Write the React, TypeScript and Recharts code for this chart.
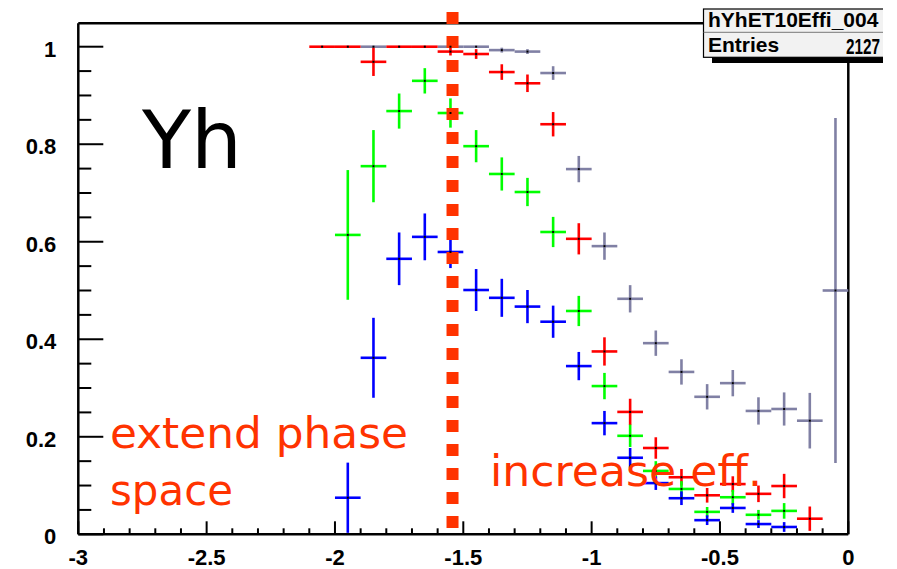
import React from 'react';
import { ScatterChart, Scatter, XAxis, YAxis, ErrorBar, ReferenceLine } from 'recharts';

// Efficiency per eta bin (bin width 0.1), four selections.
const HALF_BIN = 0.05;

const GRAY_X = [-1.85, -1.55, -1.45, -1.35, -1.25, -1.15, -1.05, -0.95, -0.85, -0.75, -0.65, -0.55, -0.45, -0.35, -0.25, -0.15, -0.05];
const GRAY_Y = [1, 1, 1, 0.993, 0.99, 0.946, 0.749, 0.591, 0.483, 0.392, 0.333, 0.282, 0.31, 0.253, 0.257, 0.233, 0.5];
const GRAY_ERR = [0, 0, 0, 0.005, 0.005, 0.014, 0.027, 0.028, 0.028, 0.026, 0.026, 0.026, 0.027, 0.028, 0.034, 0.057, 0.354];

const RED_X = [-2.05, -1.95, -1.85, -1.75, -1.65, -1.55, -1.45, -1.35, -1.25, -1.15, -1.05, -0.95, -0.85, -0.75, -0.65, -0.55, -0.45, -0.35, -0.25, -0.15];
const RED_Y = [1, 1, 0.969, 1, 1, 0.99, 0.985, 0.948, 0.925, 0.841, 0.606, 0.375, 0.251, 0.177, 0.117, 0.08, 0.103, 0.083, 0.099, 0.032];
const RED_ERR = [0, 0, 0.029, 0, 0, 0.008, 0.01, 0.016, 0.018, 0.025, 0.032, 0.029, 0.027, 0.022, 0.017, 0.015, 0.016, 0.017, 0.025, 0.025];

const GREEN_X = [-1.95, -1.85, -1.75, -1.65, -1.55, -1.45, -1.35, -1.25, -1.15, -1.05, -0.95, -0.85, -0.75, -0.65, -0.55, -0.45, -0.35, -0.25];
const GREEN_Y = [0.614, 0.755, 0.868, 0.93, 0.864, 0.796, 0.739, 0.702, 0.62, 0.458, 0.304, 0.202, 0.13, 0.093, 0.046, 0.076, 0.04, 0.048];
const GREEN_ERR = [0.133, 0.074, 0.036, 0.026, 0.03, 0.033, 0.034, 0.029, 0.031, 0.031, 0.027, 0.023, 0.02, 0.016, 0.01, 0.015, 0.01, 0.016];

const BLUE_X = [-1.95, -1.85, -1.75, -1.65, -1.55, -1.45, -1.35, -1.25, -1.15, -1.05, -0.95, -0.85, -0.75, -0.65, -0.55, -0.45, -0.35, -0.25];
const BLUE_Y = [0.075, 0.362, 0.565, 0.61, 0.579, 0.501, 0.485, 0.467, 0.436, 0.345, 0.228, 0.157, 0.105, 0.074, 0.029, 0.054, 0.021, 0.015];
const BLUE_ERR = [0.072, 0.082, 0.054, 0.048, 0.033, 0.043, 0.039, 0.034, 0.033, 0.029, 0.025, 0.02, 0.014, 0.014, 0.01, 0.01, 0.008, 0.01];

// Axis ticks
const X_MAJOR = [-3, -2.5, -2, -1.5, -1, -0.5, 0];
const X_LABELS = ['-3', '-2.5', '-2', '-1.5', '-1', '-0.5', '0'];
const X_MINOR_DIV = 5;
const Y_MAJOR = [0, 0.2, 0.4, 0.6, 0.8, 1];
const Y_LABELS = ['0', '0.2', '0.4', '0.6', '0.8', '1'];
const Y_MINOR_DIV = 4;

const X_DOMAIN: [number, number] = [-3, 0];
const Y_DOMAIN: [number, number] = [0, 1.048];
const CUT_ETA = -1.542;

const W = 897;
const H = 569;

function withMinors(major: number[], div: number, max: number): number[] {
  const out: number[] = [];
  for (let i = 0; i < major.length; i++) {
    out.push(major[i]);
    if (i < major.length - 1) {
      const step = (major[i + 1] - major[i]) / div;
      for (let k = 1; k < div; k++) out.push(+(major[i] + k * step).toFixed(4));
    }
  }
  const last = major[major.length - 1];
  const step = (major[1] - major[0]) / div;
  for (let v = last + step; v <= max + 1e-9; v += step) out.push(+v.toFixed(4));
  return out;
}

const X_TICKS = withMinors(X_MAJOR, X_MINOR_DIV, X_DOMAIN[1]);
const Y_TICKS = withMinors(Y_MAJOR, Y_MINOR_DIV, Y_DOMAIN[1]);

function toPoints(xs: number[], ys: number[], errs: number[]) {
  return xs.map((x, i) => ({ x, y: ys[i], ey: errs[i], ex: HALF_BIN }));
}

const SERIES = [
  { name: 'gray', color: '#8080a4', data: toPoints(GRAY_X, GRAY_Y, GRAY_ERR) },
  { name: 'red', color: '#ff0000', data: toPoints(RED_X, RED_Y, RED_ERR) },
  { name: 'green', color: '#00ff00', data: toPoints(GREEN_X, GREEN_Y, GREEN_ERR) },
  { name: 'blue', color: '#0000ff', data: toPoints(BLUE_X, BLUE_Y, BLUE_ERR) },
];

const LABEL_FONT = '"Liberation Sans", Arial, sans-serif';
const NOTE_FONT = '"DejaVu Sans", sans-serif';

function findLabel(major: number[], labels: string[], v: number): string | null {
  const i = major.findIndex((m) => Math.abs(m - v) < 1e-6);
  return i >= 0 ? labels[i] : null;
}

const XTick = (props: any) => {
  const { x, y, payload } = props;
  const label = findLabel(X_MAJOR, X_LABELS, payload.value);
  const len = label !== null ? 13 : 6;
  return (
    <g>
      <line x1={x} x2={x} y1={y} y2={y - len} stroke="#000" strokeWidth={2} />
      {label !== null && (
        <text x={x} y={y + 31} textAnchor="middle" fontFamily={LABEL_FONT} fontWeight="bold" fontSize={22} fill="#000">
          {label}
        </text>
      )}
    </g>
  );
};

const YTick = (props: any) => {
  const { x, y, payload } = props;
  const label = findLabel(Y_MAJOR, Y_LABELS, payload.value);
  const len = label !== null ? 25 : 13;
  return (
    <g>
      <line x1={x} x2={x + len} y1={y} y2={y} stroke="#000" strokeWidth={2} />
      {label !== null && (
        <text x={x - 22} y={y + 10} textAnchor="end" fontFamily={LABEL_FONT} fontWeight="bold" fontSize={22} fill="#000">
          {label}
        </text>
      )}
    </g>
  );
};

const Marker = (props: any) => {
  const { cx, cy } = props;
  return <rect x={cx - 1} y={cy - 1} width={2} height={2} fill="#000" />;
};

export default function App() {
  return (
    <div style={{ position: 'absolute', left: 0, top: 0, width: W, height: H, background: '#fff' }}>
      <ScatterChart width={W} height={H} margin={{ top: 23.3, right: 48.7, bottom: 4.7, left: 18.3 }}>
        <XAxis
          type="number"
          dataKey="x"
          domain={X_DOMAIN}
          ticks={X_TICKS}
          interval={0}
          allowDataOverflow
          tickSize={0}
          tickMargin={0}
          tickLine={false}
          axisLine={{ stroke: '#000', strokeWidth: 2.5 }}
          tick={<XTick />}
          height={30}
        />
        <YAxis
          type="number"
          dataKey="y"
          domain={Y_DOMAIN}
          ticks={Y_TICKS}
          interval={0}
          allowDataOverflow
          tickSize={0}
          tickMargin={0}
          tickLine={false}
          axisLine={{ stroke: '#000', strokeWidth: 2.5 }}
          tick={<YTick />}
          width={60}
        />
        <ReferenceLine y={Y_DOMAIN[1]} stroke="#000" strokeWidth={2.5} />
        <ReferenceLine x={X_DOMAIN[1]} stroke="#000" strokeWidth={2.5} />
        {SERIES.map((s) => (
          <Scatter key={s.name} name={s.name} data={s.data} shape={<Marker />} isAnimationActive={false}>
            <ErrorBar dataKey="ex" direction="x" width={0} stroke={s.color} strokeWidth={2.6} isAnimationActive={false} />
            <ErrorBar dataKey="ey" direction="y" width={0} stroke={s.color} strokeWidth={2.6} isAnimationActive={false} />
          </Scatter>
        ))}
        <ReferenceLine
          segment={[{ x: CUT_ETA, y: 0.013 }, { x: CUT_ETA, y: 1.097 }]}
          stroke="#ff3300"
          strokeWidth={12}
          strokeDasharray="12 12"
          ifOverflow="visible"
        />
      </ScatterChart>
      <svg width={W} height={H} style={{ position: 'absolute', left: 0, top: 0, pointerEvents: 'none' }}>
        <defs>
          <clipPath id="statsClip">
            <rect x={0} y={0} width={883} height={H} />
          </clipPath>
        </defs>
        <text x={142} y={168} fontFamily={NOTE_FONT} fontSize={80} fill="#000" textLength={100} lengthAdjust="spacingAndGlyphs">Yh</text>
        <g fontFamily={NOTE_FONT} fontSize={43} fill="#ff3300">
          <text x={110} y={448} textLength={298} lengthAdjust="spacingAndGlyphs">extend phase</text>
          <text x={110} y={505} textLength={123} lengthAdjust="spacingAndGlyphs">space</text>
          <text x={490} y={486} textLength={272} lengthAdjust="spacingAndGlyphs">increase eff.</text>
        </g>
        <g clipPath="url(#statsClip)">
          <rect x={712} y={57} width={200} height={6} fill="#000" />
          <rect x={703.5} y={9} width={200} height={48.3} fill="#f2f2f2" stroke="#000" strokeWidth={1.2} />
          <line x1={703.5} x2={903} y1={32.3} y2={32.3} stroke="#777" strokeWidth={1} />
          <g fontFamily={LABEL_FONT} fontWeight="bold" fontSize={21} fill="#000">
            <text x={708} y={27}>hYhET10Effi_004</text>
            <text x={708} y={51.5}>Entries</text>
            <text x={846} y={54} fontSize={22} textLength={34} lengthAdjust="spacingAndGlyphs">2127</text>
          </g>
        </g>
      </svg>
    </div>
  );
}
